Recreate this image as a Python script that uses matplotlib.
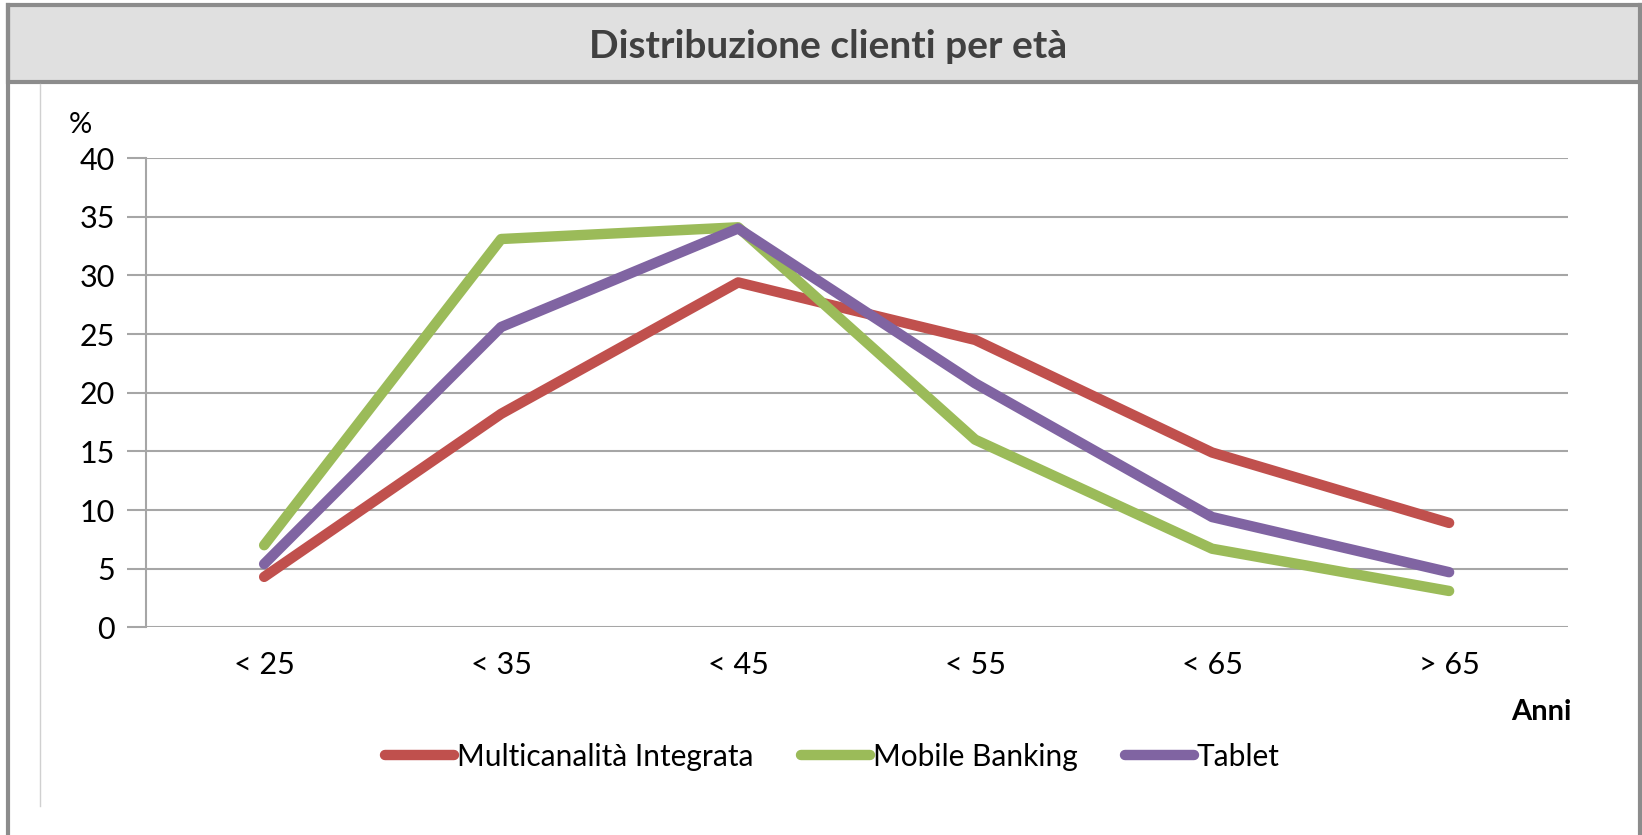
import matplotlib
matplotlib.use('Agg')
import matplotlib.pyplot as plt
from matplotlib.patches import Rectangle
from matplotlib.lines import Line2D

plt.rcParams['font.family'] = ['Lato', 'DejaVu Sans']

categories = ['< 25', '< 35', '< 45', '< 55', '< 65', '> 65']
multicanalita = [4.3, 18.2, 29.4, 24.5, 14.9, 8.9]
mobile_banking = [7.0, 33.1, 34.1, 16.0, 6.7, 3.1]
tablet = [5.4, 25.6, 34.0, 20.8, 9.4, 4.7]

series = [
    ('Multicanalità Integrata', multicanalita, '#C0504D'),
    ('Mobile Banking', mobile_banking, '#9BBB59'),
    ('Tablet', tablet, '#8064A2'),
]

fig = plt.figure(figsize=(16.42, 8.35), dpi=100)
ax = fig.add_axes([0.0887, 0.2487, 0.866, 0.562])

x = list(range(len(categories)))
for name, vals, col in series:
    ax.plot(x, vals, color=col, lw=7.5, label=name, solid_capstyle='round')

ax.set_xlim(-0.5, len(categories) - 0.5)
ax.set_ylim(0, 40)
ax.set_yticks(range(0, 41, 5))
ax.set_xticks(x)
ax.set_xticklabels(categories)
ax.yaxis.grid(True, color='#A6A6A6', lw=1.5)
ax.set_axisbelow(True)
for s in ['top', 'right', 'bottom']:
    ax.spines[s].set_visible(False)
ax.spines['left'].set_color('#A6A6A6')
ax.spines['left'].set_linewidth(1.5)
ax.tick_params(axis='y', length=14, width=1.5, color='#A6A6A6', labelsize=22, pad=8)
ax.tick_params(axis='x', length=0, labelsize=22, pad=17)

ax.text(-0.046, 1.07, '%', transform=ax.transAxes, fontsize=21, ha='center', va='center')
ax.text(1.003, -0.18, 'Anni', transform=ax.transAxes, fontsize=21, fontweight='bold', ha='right', va='center')

# title bar and frame
fig.patches.append(Rectangle((0.0051, 0.902), 0.995, 0.092, transform=fig.transFigure,
                             facecolor='#E0E0E0', edgecolor='#8C8C8C', lw=3))
fig.lines.append(Line2D([0.0051, 0.0051], [0.0, 0.994], transform=fig.transFigure, color='#8C8C8C', lw=3))
fig.lines.append(Line2D([0.9985, 0.9985], [0.0, 0.994], transform=fig.transFigure, color='#8C8C8C', lw=3))
fig.lines.append(Line2D([0.0242, 0.0242], [0.035, 0.9], transform=fig.transFigure, color='#D0D0D0', lw=1))
fig.text(0.504, 0.944, 'Distribuzione clienti per età', ha='center', va='center',
         fontsize=28, fontweight='bold', color='#404040')

fig.legend(loc='center', bbox_to_anchor=(0.507, 0.094), ncol=3, frameon=False, fontsize=21.5,
           handlelength=2.3, handletextpad=0.1, columnspacing=1.6)

fig.savefig('out.png', dpi=100)
